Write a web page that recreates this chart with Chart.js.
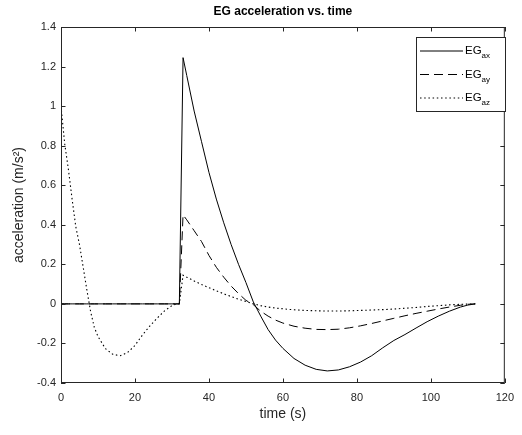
<!DOCTYPE html>
<html>
<head>
<title>EG acceleration vs. time</title>
<script src="https://cdn.jsdelivr.net/npm/chart.js@4.4.1/dist/chart.umd.min.js"></script>
<style>
body{margin:0;background:#fff;}
#wrap{width:522px;height:435px;}
</style>
</head>
<body>
<div id="wrap"><canvas id="myChart" width="522" height="435"></canvas></div>
<script>
// time samples (s)
var time=[0,1,2,3,4,5,6,7,8,9,10,12,14,16,18,20,22,24,26,28,30,31,32,
  33,34,36,38,40,42,44,46,48,50,52,
  54,56,58,60,
  63,66,69,72,75,78,81,84,87,90,93,96,99,102,105,108,
  110,112];
// acceleration (m/s^2)
var egAx=[0,0,0,0,0,0,0,0,0,0,0,0,0,0,0,0,0,0,0,0,0,0,0,
  1.245,1.155,0.975,0.82,0.665,0.53,0.41,0.30,0.2,0.108,0.01,
  -0.062,-0.13,-0.183,-0.225,
  -0.276,-0.31,-0.331,-0.339,-0.334,-0.318,-0.294,-0.262,-0.222,-0.185,-0.155,-0.122,-0.09,-0.062,-0.037,-0.016,
  -0.006,0];
var egAy=[0,0,0,0,0,0,0,0,0,0,0,0,0,0,0,0,0,0,0,0,0,0,0,
  0.45,0.425,0.37,0.315,0.245,0.185,0.135,0.09,0.052,0.018,-0.004,
  -0.037,-0.062,-0.082,-0.097,
  -0.113,-0.123,-0.129,-0.13,-0.128,-0.121,-0.111,-0.099,-0.086,-0.073,-0.06,-0.048,-0.037,-0.026,-0.016,-0.007,
  -0.002,0];
var egAz=[1.0,0.81,0.68,0.53,0.39,0.3,0.185,0.07,-0.038,-0.118,-0.165,-0.226,-0.255,-0.262,-0.246,-0.21,-0.158,-0.112,-0.072,-0.035,-0.009,-0.002,0,
  0.145,0.135,0.116,0.098,0.082,0.066,0.051,0.037,0.024,0.012,0.001,
  -0.009,-0.016,-0.021,-0.025,
  -0.03,-0.033,-0.035,-0.036,-0.036,-0.035,-0.033,-0.031,-0.029,-0.026,-0.022,-0.018,-0.013,-0.009,-0.005,-0.002,
  -0.001,0];

var xTickLabels=['0','20','40','60','80','100','120'];
var yTickLabels=['-0.4','-0.2','0','0.2','0.4','0.6','0.8','1','1.2','1.4'];
var legendSubs=['ax','ay','az'];
var titleText='EG acceleration vs. time';

var FONT='"Liberation Sans", Arial, Helvetica, sans-serif';

function pts(vals){
  var out=[];
  for(var i=0;i<time.length;i++){ out.push({x:time[i],y:vals[i]}); }
  return out;
}

// box, inward ticks, title and legend (MATLAB look)
var axesBox={
  id:'axesBox',
  afterDatasetsDraw:function(chart){
    var ctx=chart.ctx, a=chart.chartArea, xs=chart.scales.x, ys=chart.scales.y;
    ctx.save();
    ctx.strokeStyle='#262626';
    ctx.lineWidth=1;
    ctx.setLineDash([]);
    ctx.strokeRect(a.left+0.5,a.top+0.5,a.right-a.left-1,a.bottom-a.top-1);
    ctx.beginPath();
    xs.ticks.forEach(function(t){
      var px=Math.round(xs.getPixelForValue(t.value))+0.5;
      ctx.moveTo(px,a.bottom); ctx.lineTo(px,a.bottom-4.5);
      ctx.moveTo(px,a.top); ctx.lineTo(px,a.top+4.5);
    });
    ys.ticks.forEach(function(t){
      var py=Math.round(ys.getPixelForValue(t.value))+0.5;
      ctx.moveTo(a.left,py); ctx.lineTo(a.left+4.5,py);
      ctx.moveTo(a.right,py); ctx.lineTo(a.right-4.5,py);
    });
    ctx.stroke();

    // title
    ctx.fillStyle='#000';
    ctx.font='bold 12px '+FONT;
    ctx.textAlign='center';
    ctx.textBaseline='middle';
    ctx.fillText(titleText,(a.left+a.right)/2,12);

    // legend
    var lx=416, ly=37, lw=89, lh=74;
    ctx.fillStyle='#fff';
    ctx.fillRect(lx,ly,lw,lh);
    ctx.strokeStyle='#262626';
    ctx.strokeRect(lx+0.5,ly+0.5,lw,lh);
    var rows=[51,74.5,98];
    chart.data.datasets.forEach(function(ds,i){
      var y=rows[i];
      ctx.strokeStyle=ds.borderColor;
      ctx.lineWidth=ds.borderWidth;
      ctx.setLineDash(ds.borderDash||[]);
      ctx.beginPath();
      ctx.moveTo(420,y); ctx.lineTo(463,y);
      ctx.stroke();
      ctx.setLineDash([]);
      ctx.fillStyle='#000';
      ctx.textAlign='left';
      ctx.textBaseline='middle';
      ctx.font='11.5px '+FONT;
      ctx.fillText('EG',465,y);
      var w=ctx.measureText('EG').width;
      ctx.font='8px '+FONT;
      ctx.fillText(legendSubs[i],465+w,y+5);
    });
    ctx.restore();
  }
};

var ctx=document.getElementById('myChart').getContext('2d');
var chart=new Chart(ctx,{
  type:'line',
  data:{
    datasets:[
      {label:'EG_ax',data:pts(egAx),borderColor:'#000',borderWidth:1,borderDash:[],pointRadius:0,tension:0,fill:false},
      {label:'EG_ay',data:pts(egAy),borderColor:'#000',borderWidth:1,borderDash:[9,5],pointRadius:0,tension:0,fill:false},
      {label:'EG_az',data:pts(egAz),borderColor:'#000',borderWidth:1.1,borderDash:[1.5,2.7],pointRadius:0,tension:0,fill:false}
    ]
  },
  options:{
    responsive:false,
    animation:false,
    events:[],
    layout:{padding:{left:0,top:27,right:12,bottom:0}},
    plugins:{legend:{display:false},tooltip:{enabled:false},title:{display:false}},
    scales:{
      x:{
        type:'linear',min:0,max:120,
        afterFit:function(s){ s.height=52; },
        border:{display:false},
        grid:{display:false,drawTicks:false},
        ticks:{stepSize:20,padding:8,color:'#262626',font:{family:FONT,size:11},maxRotation:0,
          callback:function(v,i){ return xTickLabels[i]; }},
        title:{display:true,text:'time (s)',color:'#262626',font:{family:FONT,size:14},padding:{top:0,bottom:12}}
      },
      y:{
        type:'linear',min:-0.4,max:1.4,
        afterFit:function(s){ s.width=61; },
        border:{display:false},
        grid:{display:false,drawTicks:false},
        ticks:{stepSize:0.2,padding:5,color:'#262626',font:{family:FONT,size:11},
          callback:function(v,i){ return yTickLabels[i]; }},
        title:{display:true,text:'acceleration (m/s\u00b2)',color:'#262626',font:{family:FONT,size:14},padding:{top:11,bottom:0}}
      }
    }
  },
  plugins:[axesBox]
});
</script>
</body>
</html>
